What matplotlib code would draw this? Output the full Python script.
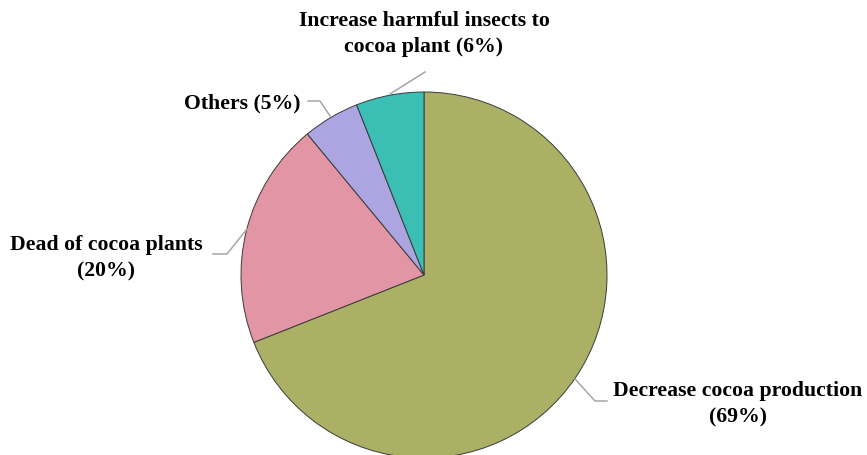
import matplotlib
matplotlib.use("Agg")
import matplotlib.pyplot as plt

# Perceived effects on cocoa (share of respondents, %)
categories = ["Decrease cocoa production", "Dead of cocoa plants", "Others",
              "Increase harmful insects to cocoa plant"]
values = [69, 20, 5, 6]
labels = ["Decrease cocoa production\n(69%)", "Dead of cocoa plants\n(20%)",
          "Others (5%)", "Increase harmful insects to\ncocoa plant (6%)"]
colors = ["#ABB065", "#E295A5", "#ACA5E2", "#3BBEB4"]

W, H = 867, 456
fig = plt.figure(figsize=(W / 100, H / 100), dpi=100)
ax = fig.add_axes([0, 0, 1, 1])

cx, cy, r = 424, H - 276, 183
ax.pie(values, colors=colors, startangle=90, counterclock=False,
       center=(cx, cy), radius=r, frame=True,
       wedgeprops=dict(edgecolor="#3a3a3a", linewidth=0.7))
ax.set_xlim(0, W)
ax.set_ylim(0, H)
ax.axis("off")

font = dict(family="Liberation Serif", fontweight="bold", fontsize=15.7,
            color="black", linespacing=1.45)
lead = dict(color="#A6A6A6", linewidth=1.1)

# Decrease cocoa production
ax.plot([575, 595, 607], [H - 380, H - 402, H - 402], **lead)
ax.text(738, H - 404, labels[0], ha="center", va="center", **font)

# Dead of cocoa plants
ax.plot([247, 227, 213], [H - 230, H - 255, H - 255], **lead)
ax.text(106, H - 258, labels[1], ha="center", va="center", **font)

# Others
ax.plot([330, 320, 308], [H - 117, H - 102, H - 102], **lead)
ax.text(301, H - 103, labels[2], ha="right", va="center", **font)

# Increase harmful insects
ax.plot([390, 425], [H - 95, H - 73], **lead)
ax.text(424, H - 34, labels[3], ha="center", va="center", **font)

fig.savefig("out.png", dpi=100)
